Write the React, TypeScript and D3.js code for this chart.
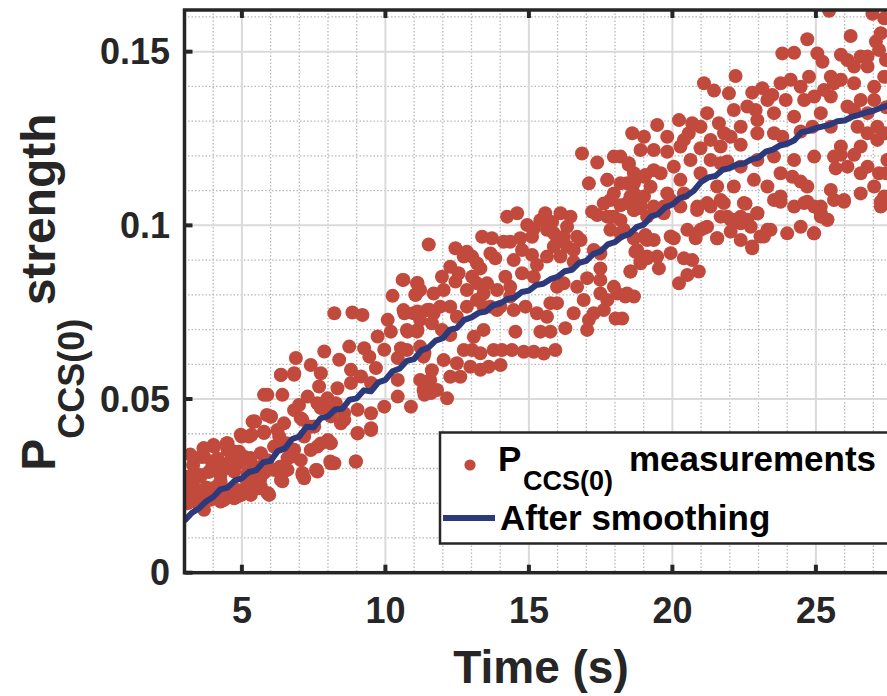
import React from "react";
import * as d3 from "d3";

// ---------- data ----------
const xDomain: [number, number] = [3, 28];
const yDomain: [number, number] = [0, 0.162];
const xTicks = [5, 10, 15, 20, 25];
const yTicks = [0, 0.05, 0.1, 0.15];
const yTickLabels = ["0", "0.05", "0.1", "0.15"];
const xMinor = d3.range(3, 29, 1);
const yMinor = d3.range(0.01, 0.165, 0.01);

const measurementsEarly: [number, number][] = [
  [10.6, 0.0843], [11.12, 0.0834], [10.25, 0.0797], [11.06, 0.08], [8.22, 0.0747], [8.85, 0.0749],
  [9.2, 0.0742], [10.08, 0.0728], [10.66, 0.0747], [11.12, 0.0752], [11.53, 0.0757], [10.19, 0.0694],
  [10.77, 0.0694], [11.12, 0.0699], [9.73, 0.068], [9.26, 0.0646], [8.74, 0.0651], [7.87, 0.0637],
  [6.88, 0.0618], [7.4, 0.0598], [8.39, 0.0613], [9.44, 0.0622], [9.96, 0.0642], [10.54, 0.0646],
  [9.67, 0.0589], [10.43, 0.0618], [11.36, 0.0632], [7.75, 0.0574], [6.82, 0.057], [6.36, 0.057],
  [8.8, 0.0584], [9.15, 0.0565], [9.5, 0.0546], [10.43, 0.0555], [11.3, 0.055], [11.59, 0.0517],
  [5.89, 0.0512], [6.41, 0.0512], [7.29, 0.0507], [7.69, 0.0536], [8.33, 0.0531], [8.8, 0.0546],
  [7.98, 0.0502], [8.27, 0.0488], [7.75, 0.0474], [8.56, 0.0459], [9.03, 0.0469], [9.5, 0.0459],
  [9.96, 0.0478], [10.43, 0.0507], [10.89, 0.0478], [11.36, 0.0512], [5.42, 0.0435], [6.01, 0.045],
  [6.47, 0.043], [6.99, 0.0483], [7.05, 0.0445], [7.52, 0.0421], [7.17, 0.0392], [8.1, 0.045],
  [8.45, 0.043], [9.03, 0.0402], [9.5, 0.0416], [8.1, 0.0373], [7.63, 0.0363], [6.82, 0.0354],
  [6.24, 0.0411], [5.77, 0.0402], [4.96, 0.0397], [4.5, 0.0373], [3.68, 0.0334], [4.03, 0.0363],
  [4.73, 0.0349], [5.08, 0.0334], [5.66, 0.0344], [6.18, 0.0363], [6.59, 0.033], [6.12, 0.0296],
  [6.59, 0.0296], [7.11, 0.0287], [7.63, 0.0291], [8.22, 0.0315], [8.97, 0.032], [7.17, 0.0272],
  [6.41, 0.0263], [5.42, 0.0306], [5.77, 0.0287], [5.19, 0.0258], [4.73, 0.0239], [4.15, 0.0248],
  [3.56, 0.0277], [3.16, 0.0277], [3.22, 0.0239], [3.45, 0.021], [3.91, 0.021], [4.38, 0.021],
  [4.84, 0.0219], [5.31, 0.0224], [5.95, 0.0224], [3.1, 0.02], [3.68, 0.0181],
  [3.08, 0.0267], [3.02, 0.0228], [3.31, 0.0267], [3.48, 0.0224], [3.66, 0.0358], [3.6, 0.0334],
  [4.01, 0.0368], [3.95, 0.032], [4.47, 0.0373], [4.35, 0.031], [4.7, 0.0349], [4.88, 0.0315],
  [4.12, 0.0248], [4.59, 0.0238], [3.89, 0.0214], [4.35, 0.021], [4.99, 0.0224], [5.58, 0.0243],
  [6.33, 0.0305], [6.68, 0.0334], [6.56, 0.0373], [7.61, 0.0296], [8.08, 0.0373], [8.08, 0.032],
  [5.63, 0.0267], [5.17, 0.0267], [5.92, 0.0228], [4.99, 0.0392], [5.34, 0.0397], [5.46, 0.0435],
  [5.87, 0.0454], [3.3, 0.031], [3.85, 0.029], [4.25, 0.028], [3.2, 0.034], [3.75, 0.0245],
  [4.6, 0.03], [5.3, 0.033], [3.5, 0.0195],
  [3.68, 0.0358], [4.03, 0.0363], [4.5, 0.0353], [4.9, 0.0348], [3.56, 0.0334], [4.15, 0.0329],
  [4.61, 0.0324], [5.08, 0.0324], [3.22, 0.0277], [3.56, 0.0281], [3.91, 0.0296], [4.26, 0.0296],
  [4.73, 0.0291], [5.19, 0.0286], [5.54, 0.0281], [3.1, 0.0248], [3.45, 0.0238], [3.85, 0.0243],
  [4.38, 0.0238], [4.84, 0.0238], [5.31, 0.0248], [5.89, 0.0229], [3.1, 0.021], [4.26, 0.0205],
  [4.73, 0.0214], [5.66, 0.0248], [5.37, 0.0435], [5.77, 0.0406], [6.01, 0.0449], [5.25, 0.0392],
  [5.77, 0.0512], [6.36, 0.0569], [6.82, 0.0574], [6.3, 0.0392], [6.59, 0.0363], [6.7, 0.0334],
  [6.47, 0.0296], [6.36, 0.0267], [7.11, 0.0281], [7.58, 0.0296], [7.05, 0.0324], [7.4, 0.0353],
  [7.75, 0.0372], [8.0, 0.0382], [8.1, 0.0315], [8.97, 0.032], [9.03, 0.0401], [9.5, 0.0411],
  [8.57, 0.044], [8.1, 0.0468], [6.82, 0.0468], [7.11, 0.044], [7.63, 0.0488], [7.4, 0.042],
  [5.89, 0.0324], [6.12, 0.0363], [5.66, 0.0305], [4.26, 0.0262],
];

const measurementsMid: [number, number][] = [
  [16.85, 0.1207], [17.38, 0.1181], [18.48, 0.1174], [17.09, 0.1121], [17.73, 0.1131], [18.42, 0.1121],
  [19.06, 0.1145], [17.96, 0.1092], [18.66, 0.1092], [19.01, 0.1083], [17.61, 0.1063], [18.19, 0.1058],
  [18.66, 0.1044], [17.38, 0.103], [17.96, 0.1025], [17.2, 0.1039], [18.19, 0.1015], [18.89, 0.1049],
  [17.84, 0.0987], [18.66, 0.0963], [19.06, 0.0972], [18.77, 0.0929], [19.12, 0.091], [18.89, 0.0891],
  [18.54, 0.0867], [17.49, 0.0876], [14.24, 0.1025], [14.59, 0.1035], [15.57, 0.1035], [16.1, 0.1035],
  [16.45, 0.1025], [14.94, 0.1001], [15.17, 0.0991], [13.37, 0.0967], [13.71, 0.0963], [14.12, 0.0953],
  [14.35, 0.0953], [14.7, 0.0963], [15.63, 0.0987], [15.87, 0.0977], [16.21, 0.0967], [16.68, 0.0967],
  [16.8, 0.0958], [15.87, 0.0939], [16.33, 0.0939], [11.51, 0.0945], [12.44, 0.0934], [12.84, 0.0924],
  [13.02, 0.091], [13.66, 0.0919], [13.83, 0.0905], [15.11, 0.0915], [15.63, 0.091], [16.1, 0.091],
  [15.28, 0.0886], [16.56, 0.0895], [17.26, 0.0929], [17.49, 0.0919], [13.31, 0.0876], [12.55, 0.0862],
  [13.02, 0.0852], [11.97, 0.0852], [10.63, 0.0843], [11.1, 0.0833], [12.03, 0.0814], [11.04, 0.08],
  [12.44, 0.0838], [13.19, 0.0833], [13.42, 0.0804], [13.89, 0.0814], [14.18, 0.0852], [14.76, 0.0862],
  [15.17, 0.0852], [15.98, 0.0823], [16.21, 0.0833], [17.03, 0.0848], [16.68, 0.0823], [17.49, 0.0843],
  [17.96, 0.0823], [18.42, 0.0804], [17.73, 0.0785], [18.08, 0.0804], [10.63, 0.0756], [10.98, 0.0747],
  [11.45, 0.0756], [11.68, 0.0747], [12.26, 0.0766], [12.84, 0.0766], [13.19, 0.0785], [13.66, 0.0766],
  [14.01, 0.0766], [14.35, 0.0795], [14.88, 0.0766], [15.28, 0.0747], [15.63, 0.0737], [15.98, 0.0776],
  [16.56, 0.0747], [17.09, 0.0728], [17.26, 0.0747], [18.02, 0.0732], [14.53, 0.0694], [13.42, 0.0699],
  [13.89, 0.0756], [10.75, 0.0699], [11.1, 0.0694], [11.62, 0.0718], [11.97, 0.0699], [12.26, 0.0684],
  [12.73, 0.0641], [13.02, 0.0641], [13.31, 0.0632], [13.77, 0.0641], [14.06, 0.0641], [14.41, 0.0641],
  [14.82, 0.0636], [15.17, 0.0636], [15.52, 0.0631], [15.92, 0.0641], [16.27, 0.0704], [15.4, 0.0694],
  [15.75, 0.0694], [10.75, 0.0641], [11.33, 0.0622], [12.03, 0.0612], [11.62, 0.0583], [12.26, 0.0564],
  [12.61, 0.0564], [12.96, 0.0593], [13.6, 0.0593], [14.01, 0.0598], [11.21, 0.0555], [11.33, 0.0526],
  [11.8, 0.0526], [12.15, 0.0502],
  [15.4, 0.1015], [15.81, 0.101], [16.33, 0.0996], [15.98, 0.0953], [16.56, 0.0929], [15.11, 0.0967],
  [14.76, 0.0929], [14.47, 0.09], [13.19, 0.0891], [12.73, 0.091], [12.26, 0.0881], [11.21, 0.0814],
  [11.68, 0.0804], [12.84, 0.0814], [13.54, 0.0833], [14.35, 0.0823], [14.47, 0.0756], [13.42, 0.0766],
  [12.49, 0.0737], [11.91, 0.0766], [11.21, 0.0728], [15.75, 0.0776], [16.91, 0.0785], [17.49, 0.0804],
  [17.61, 0.0756], [18.66, 0.0795], [17.03, 0.0699], [13.08, 0.0679], [11.21, 0.0651], [12.49, 0.0603],
  [13.31, 0.0584], [11.56, 0.0555], [17.96, 0.1198], [18.66, 0.1121], [17.73, 0.1025], [18.31, 0.0987],
  [19.12, 0.1025],
];

const measurementsLate: [number, number][] = [
  [25.46, 0.1618], [26.97, 0.1609], [27.38, 0.1596], [24.7, 0.1536], [26.21, 0.1545], [23.83, 0.1495],
  [24.24, 0.1497], [25.05, 0.1495], [25.23, 0.1471], [25.87, 0.1491], [26.56, 0.1486], [27.09, 0.1529],
  [27.2, 0.1505], [27.44, 0.1476], [22.2, 0.143], [21.1, 0.1409], [21.45, 0.1388], [21.97, 0.138],
  [22.78, 0.1382], [23.13, 0.1395], [23.48, 0.1375], [23.77, 0.1409], [24.12, 0.1419], [24.76, 0.1428],
  [25.52, 0.1428], [25.87, 0.1419], [26.33, 0.1457], [26.8, 0.1457], [27.03, 0.1399], [27.38, 0.1428],
  [24.59, 0.1361], [24.94, 0.1371], [25.52, 0.1371], [26.1, 0.1342], [26.56, 0.1361], [27.03, 0.1361],
  [22.61, 0.1342], [22.9, 0.1332], [23.31, 0.1361], [23.95, 0.1361], [21.21, 0.1323], [21.62, 0.1294],
  [22.38, 0.1284], [21.8, 0.1265], [18.6, 0.1265], [19.01, 0.1255], [19.47, 0.1289], [20.23, 0.1303],
  [20.69, 0.1294], [20.57, 0.1265], [20.28, 0.1227], [19.82, 0.1212], [19.35, 0.1217], [20.98, 0.1222],
  [21.33, 0.1246], [21.68, 0.1227], [22.03, 0.1255], [22.38, 0.1232], [22.96, 0.1265], [23.54, 0.1265],
  [23.83, 0.1255], [24.47, 0.127], [24.88, 0.1284], [25.52, 0.1284], [26.45, 0.1284], [26.8, 0.1265],
  [27.14, 0.1284], [25.87, 0.1227], [26.56, 0.1227], [27.14, 0.1246], [25.87, 0.1203], [26.33, 0.1203],
  [25.69, 0.1164], [26.1, 0.1169], [26.8, 0.1169], [27.2, 0.115], [27.38, 0.1083], [27.49, 0.1188],
  [18.48, 0.1179], [19.01, 0.114], [19.59, 0.115], [20.28, 0.1131], [20.63, 0.1188], [21.33, 0.1188],
  [21.68, 0.1179], [21.91, 0.1184], [22.84, 0.1131], [23.31, 0.1112], [23.77, 0.115], [24.18, 0.114],
  [24.47, 0.1126], [24.7, 0.1112], [25.52, 0.1102], [25.98, 0.1073], [17.73, 0.1131], [18.19, 0.1121],
  [17.84, 0.1073], [18.54, 0.1083], [19.24, 0.1111], [19.82, 0.1092], [19.35, 0.1054], [19.7, 0.1035],
  [19.94, 0.1073], [20.87, 0.1054], [21.21, 0.0996], [21.68, 0.1073], [21.91, 0.1025], [22.14, 0.1016],
  [22.49, 0.1064], [22.61, 0.1016], [22.96, 0.1035], [23.07, 0.0968], [23.31, 0.0987], [23.54, 0.1073],
  [23.77, 0.1083], [24.24, 0.1054], [24.59, 0.1064], [24.94, 0.1054], [25.17, 0.1025], [25.4, 0.1016],
  [24.94, 0.0977], [17.84, 0.1025], [18.19, 0.0977], [18.66, 0.1044], [19.12, 0.0958], [19.94, 0.0968],
  [20.52, 0.0987], [20.98, 0.0987], [21.56, 0.0963], [22.38, 0.0958], [22.78, 0.0939],
  [18.42, 0.1064], [18.89, 0.1059], [19.7, 0.1054], [20.86, 0.1044], [21.21, 0.1064], [21.79, 0.1064],
  [22.55, 0.1062], [23.77, 0.1068], [24.7, 0.1068], [25.17, 0.1054], [25.98, 0.1068], [27.26, 0.1068],
  [25.17, 0.1035], [25.4, 0.1016], [24.93, 0.0977], [21.68, 0.1025], [22.03, 0.1016], [22.38, 0.1006],
  [22.73, 0.0996], [22.96, 0.1035], [23.42, 0.0987], [23.19, 0.0968], [22.78, 0.0934], [22.03, 0.0982],
  [21.56, 0.0963], [21.1, 0.0992], [20.81, 0.0963], [20.05, 0.0963], [19.35, 0.0958], [19.06, 0.0963],
  [18.66, 0.0963], [18.71, 0.0924], [19.12, 0.0905], [19.47, 0.091], [19.94, 0.092], [20.4, 0.0905],
  [20.69, 0.09], [20.92, 0.0867], [20.52, 0.0857], [20.23, 0.0833], [19.53, 0.0876], [18.54, 0.0867],
  [18.89, 0.0896], [18.36, 0.0795], [18.25, 0.0732],
  [25.63, 0.1409], [26.33, 0.1409], [25.28, 0.139], [24.47, 0.1399], [26.1, 0.1476], [26.8, 0.1486],
  [27.26, 0.1553], [26.33, 0.1332], [26.8, 0.1323], [25.17, 0.1323], [24.24, 0.1313], [23.54, 0.1323],
  [22.96, 0.1303], [22.14, 0.1332], [20.98, 0.1284], [20.4, 0.1246], [19.82, 0.1255], [18.89, 0.1217],
  [18.19, 0.1198], [18.66, 0.115], [19.35, 0.1159], [20.05, 0.1169], [20.98, 0.115], [22.38, 0.1169],
  [22.96, 0.1188], [23.54, 0.1198], [24.24, 0.1188], [24.94, 0.1198], [25.63, 0.1198], [26.56, 0.115],
  [27.03, 0.1112], [26.56, 0.1092], [27.26, 0.1054], [25.63, 0.1073], [24.47, 0.0996], [24.0, 0.0977],
  [22.38, 0.1025], [21.33, 0.1054], [20.28, 0.1054], [18.89, 0.1073], [20.4, 0.1092], [21.56, 0.1112],
  [22.14, 0.1112], [27.45, 0.134], [27.4, 0.1265], [27.45, 0.115],
];

const smoothT = d3.range(3, 28.01, 0.25);
const smoothV = [
  0.015, 0.0172, 0.0185, 0.0205, 0.0218, 0.024, 0.0245, 0.0265, 0.0272, 0.029, 0.0295, 0.0318,
  0.0322, 0.035, 0.0358, 0.0385, 0.0392, 0.042, 0.0418, 0.0445, 0.045, 0.047, 0.0472, 0.0498,
  0.0502, 0.0525, 0.0522, 0.0548, 0.0555, 0.058, 0.0588, 0.061, 0.0615, 0.064, 0.0648, 0.0668,
  0.0675, 0.07, 0.0705, 0.0728, 0.0735, 0.0748, 0.0752, 0.077, 0.0775, 0.0788, 0.0792, 0.0808,
  0.0812, 0.0828, 0.0832, 0.0845, 0.0852, 0.0868, 0.0872, 0.0892, 0.0898, 0.0918, 0.0925, 0.0945,
  0.0952, 0.0968, 0.0975, 0.0995, 0.1002, 0.1025, 0.1032, 0.1052, 0.106, 0.1078, 0.1085, 0.11,
  0.1125, 0.1138, 0.1142, 0.116, 0.1165, 0.1175, 0.1178, 0.119, 0.1195, 0.1212, 0.1218, 0.123,
  0.1235, 0.1245, 0.1268, 0.1272, 0.128, 0.1285, 0.129, 0.13, 0.1302, 0.1312, 0.1318, 0.1325,
  0.133, 0.1338, 0.1345, 0.1352, 0.1358,
];

const legendLabels = { p: "P", sub: "CCS(0)", meas: "measurements", smooth: "After smoothing" };

// ---------- layout ----------
const W = 887;
const H = 696;
const left = 184.5;
const right = 902;
const top = 10;
const bottom = 572.7;
const FONT = "'Liberation Sans', Arial, Helvetica, sans-serif";
const AX = "#262626";
const DOT = "#c24a3d";
const LINE = "#2c3a7c";

export default function App() {
  const x = d3.scaleLinear().domain(xDomain).range([left, right]);
  const y = d3.scaleLinear().domain(yDomain).range([bottom, top]);
  const all = [...measurementsEarly, ...measurementsMid, ...measurementsLate];
  const lineGen = d3
    .line<number>()
    .x((_, i) => x(smoothT[i]))
    .y((d) => y(d));
  const lineD = lineGen(smoothV) || "";

  return (
    <svg
      width={W}
      height={H}
      style={{ position: "absolute", left: 0, top: 0, background: "#fff" }}
      fontFamily={FONT}
    >
      <defs>
        <clipPath id="plot">
          <rect x={left} y={top} width={right - left} height={bottom - top} />
        </clipPath>
      </defs>
      <rect x={0} y={0} width={W} height={H} fill="#fff" />
      {/* minor grid */}
      <g stroke="#b8b8b8" strokeWidth={1.3} strokeDasharray="1.5,2">
        {xMinor
          .filter((t) => t % 5 !== 0)
          .map((t) => (
            <line key={"xm" + t} x1={x(t)} x2={x(t)} y1={top} y2={bottom} />
          ))}
        {yMinor
          .filter((v) => Math.abs(v / 0.05 - Math.round(v / 0.05)) > 0.01)
          .map((v) => (
            <line key={"ym" + v} x1={left} x2={right} y1={y(v)} y2={y(v)} />
          ))}
      </g>
      {/* major grid */}
      <g stroke="#dadada" strokeWidth={2}>
        {xTicks.map((t) => (
          <line key={"xg" + t} x1={x(t)} x2={x(t)} y1={top} y2={bottom} />
        ))}
        {yTicks.map((v) => (
          <line key={"yg" + v} x1={left} x2={right} y1={y(v)} y2={y(v)} />
        ))}
      </g>
      {/* data */}
      <g clipPath="url(#plot)">
        {all.map((d, i) => (
          <circle key={i} cx={x(d[0])} cy={y(d[1])} r={7} fill={DOT} />
        ))}
        <path d={lineD} fill="none" stroke={LINE} strokeWidth={6} strokeLinejoin="round" />
      </g>
      {/* axes box */}
      <rect x={left} y={top} width={right - left} height={bottom - top} fill="none" stroke={AX} strokeWidth={3.5} />
      {/* ticks */}
      <g stroke={AX} strokeWidth={4}>
        {xTicks.map((t) => (
          <g key={"xt" + t}>
            <line x1={x(t)} x2={x(t)} y1={bottom} y2={bottom - 8} />
            <line x1={x(t)} x2={x(t)} y1={top} y2={top + 8} />
          </g>
        ))}
        {yTicks.map((v) => (
          <line key={"yt" + v} x1={left} x2={left + 8} y1={y(v)} y2={y(v)} />
        ))}
      </g>
      {/* tick labels */}
      <g fill={AX} fontWeight="bold" fontSize={36}>
        {xTicks.map((t) => (
          <text key={"xl" + t} x={x(t)} y={623} textAnchor="middle">
            {t}
          </text>
        ))}
        {yTicks.map((v, i) => (
          <text key={"yl" + v} x={170} y={y(v) + 12.5} textAnchor="end">
            {yTickLabels[i]}
          </text>
        ))}
      </g>
      {/* axis labels */}
      <text x={541} y={683} textAnchor="middle" fontSize={46} fontWeight="bold" fill={AX}>
        Time (s)
      </text>
      <text transform="translate(55,292) rotate(-90)" textAnchor="middle" fontWeight="bold" fill={AX} fontSize={48}>
        <tspan>P</tspan>
        <tspan fontSize={36} dy={29}>CCS(0)</tspan>
        <tspan dy={-29}> strength</tspan>
      </text>
      {/* legend */}
      <g>
        <rect x={440} y={432.5} width={460} height={111} fill="#fff" stroke={AX} strokeWidth={2.5} />
        <circle cx={470} cy={465} r={5.6} fill={DOT} />
        <text x={498} y={471} fontSize={35} fontWeight="bold" fill="#000">
          {legendLabels.p}
        </text>
        <text x={523} y={490} fontSize={27} fontWeight="bold" fill="#000">
          {legendLabels.sub}
        </text>
        <text x={629} y={471} fontSize={35} fontWeight="bold" fill="#000">
          {legendLabels.meas}
        </text>
        <line x1={443} x2={495} y1={518} y2={518} stroke={LINE} strokeWidth={6} />
        <text x={500} y={530} fontSize={35} fontWeight="bold" fill="#000">
          {legendLabels.smooth}
        </text>
      </g>
    </svg>
  );
}
